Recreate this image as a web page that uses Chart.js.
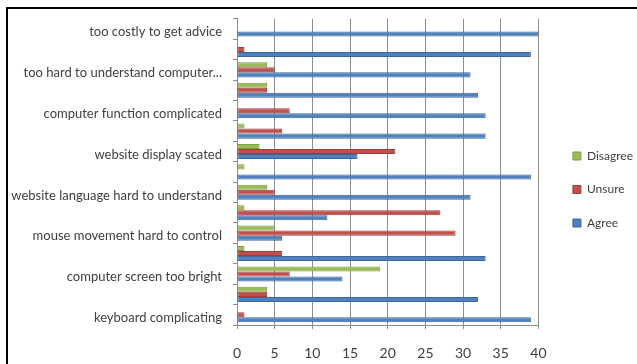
<!DOCTYPE html>
<html>
<head>
<meta charset="utf-8">
<script src="https://cdn.jsdelivr.net/npm/chart.js@4.4.1/dist/chart.umd.min.js"></script>
<style>
  html, body { margin: 0; padding: 0; background: #fff; }
  #wrap { position: relative; width: 637px; height: 364px; overflow: hidden; }
  #frame {
    position: absolute; left: 6px; top: 7px; width: 700px; height: 400px;
    border-top: 2px solid #000; border-left: 2px solid #000;
  }
  canvas { position: absolute; left: 0; top: 0; }
</style>
</head>
<body>
<div id="wrap">
  <div id="frame"></div>
  <canvas id="chart" width="637" height="364"></canvas>
</div>
<script>
// problemas reportados (solo se rotulan las filas impares, como en el original)
const categories = [
  'too costly to get advice', '',
  'too hard to understand computer...', '',
  'computer function complicated', '',
  'website display scated', '',
  'website language hard to understand', '',
  'mouse movement hard to control', '',
  'computer screen too bright', '',
  'keyboard complicating'
];
const disagree = [0, 0, 4, 4, 0, 1, 3, 1, 4, 1, 5, 1, 19, 4, 0];
const unsure   = [0, 1, 5, 4, 7, 6, 21, 0, 5, 27, 29, 6, 7, 4, 1];
const agree    = [40, 39, 31, 32, 33, 33, 16, 39, 31, 12, 6, 33, 14, 32, 39];
const xTicks   = [0, 5, 10, 15, 20, 25, 30, 35, 40];

const FONT = 'Lato, "Open Sans", sans-serif';
const TXT  = '#404040';

function serie(label, data, fill, edge) {
  return {
    label, data,
    backgroundColor: fill,
    borderColor: edge,
    borderWidth: 1,
    borderSkipped: false,
    categoryPercentage: 0.74,
    barPercentage: 1
  };
}

// la leyenda va más a la derecha que lo que deja su padding
const legendShift = {
  id: 'legendShift',
  afterLayout(chart) {
    chart.legend.left += 13;
    chart.legend.right += 13;
  }
};

new Chart(document.getElementById('chart'), {
  type: 'bar',
  data: {
    labels: categories,
    datasets: [
      serie('Disagree', disagree, '#9bbb59', '#7e9c42'),
      serie('Unsure',   unsure,   '#c0504d', '#a03c39'),
      serie('Agree',    agree,    '#4f81bd', '#3a679e')
    ]
  },
  plugins: [legendShift],
  options: {
    indexAxis: 'y',
    responsive: false,
    animation: false,
    layout: { padding: { left: 0, top: 16, right: 7, bottom: 1 } },
    plugins: {
      tooltip: { enabled: false },
      legend: {
        position: 'right',
        labels: {
          boxWidth: 8, boxHeight: 8, padding: 21.5,
          color: TXT, font: { family: FONT, size: 12 }
        }
      }
    },
    scales: {
      x: {
        min: 0, max: 40,
        afterBuildTicks: s => { s.ticks = xTicks.map(v => ({ value: v })); },
        afterFit: s => { s.height = 38; },
        grid: { color: '#8c8c8c', tickLength: 4, drawTicks: true },
        border: { color: '#8c8c8c' },
        ticks: { padding: 16, color: TXT, font: { family: FONT, size: 14 } }
      },
      y: {
        afterFit: s => { s.width = 237; },
        grid: { offset: true, drawOnChartArea: false, tickLength: 4, color: '#8c8c8c' },
        border: { color: '#8c8c8c' },
        ticks: {
          autoSkip: false, padding: 11, labelOffset: 3, color: TXT,
          font: { family: FONT, size: 13 }
        }
      }
    }
  }
});
</script>
</body>
</html>
